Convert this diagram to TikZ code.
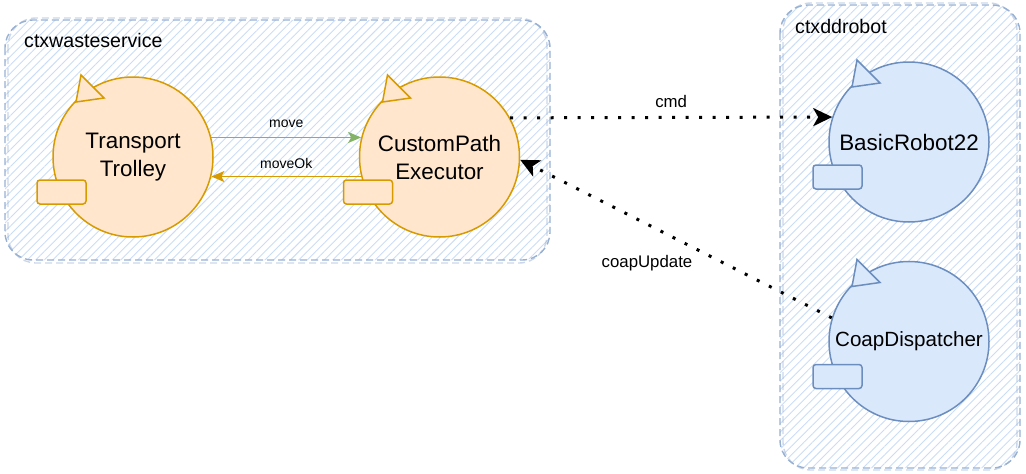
\documentclass[tikz,border=0pt]{standalone}
\usepackage{fontspec}
\setmainfont{Liberation Sans}
\usetikzlibrary{arrows.meta,positioning,patterns.meta}

\definecolor{orangefill}{HTML}{FFE6CC}
\definecolor{orangeline}{HTML}{D79B00}
\definecolor{bluefill}{HTML}{DAE8FC}
\definecolor{blueline}{HTML}{6C8EBF}
\definecolor{greenline}{HTML}{82B366}
\definecolor{hatchline}{HTML}{CADDF7}

\begin{document}
\begin{tikzpicture}[
    x=1pt, y=-1pt,
    every node/.style={font=\fontsize{14}{16}\selectfont},
    context/.style={
        draw=blueline!70, dash pattern=on 7pt off 4pt,
        line width=1.4pt, rounded corners=28pt
    },
    contextfill/.style={
        pattern={Lines[angle=45,distance=6pt,line width=0.9pt]},
        pattern color=hatchline, rounded corners=28pt
    },
    ctxlabel/.style={
        anchor=base west, inner sep=0pt,
        font=\fontsize{19.6}{22}\selectfont
    },
    actor/.style={
        circle, draw, minimum size=160pt, inner sep=0pt,
        line width=1.5pt, align=center,
        font=\fontsize{22.4}{28}\selectfont
    },
    orangeactor/.style={actor, fill=orangefill, draw=orangeline},
    blueactor/.style={actor, fill=bluefill, draw=blueline},
    flag/.style={line width=1.5pt, line join=miter},
    port/.style={line width=1.5pt, rounded corners=3pt},
    msg/.style={-{Stealth[length=13pt,width=11pt,inset=3pt]}, line width=1.5pt},
    remote/.style={
        -{Stealth[length=19pt,width=18pt,inset=5pt]}, line width=3pt,
        dash pattern=on 3pt off 10.5pt
    },
    msglabel/.style={inner sep=0pt, text=black},
    remotelabel/.style={inner sep=0pt, font=\fontsize{16.8}{19}\selectfont}
]

\useasboundingbox (0,0) rectangle (1026,474);

% --- Contexts ---
\fill[contextfill] (5,20) rectangle (550,260);
\draw[context] (5,20) rectangle (550,260);
\draw[context, draw opacity=0.5] (8,18) rectangle (547,263);
\node[ctxlabel] (wastelabel) at (24,47) {ctxwasteservice};

\fill[contextfill] (780,5) rectangle (1020,468);
\draw[context] (780,5) rectangle (1020,468);
\draw[context, draw opacity=0.5] (783,3) rectangle (1017,470);
\node[ctxlabel] (robotlabel) at (795,33) {ctxddrobot};

% --- Actors ---
\node[orangeactor] (trolley) at (133,157) {Transport\\Trolley};
\node[orangeactor, right=145pt of trolley] (executor) {CustomPath\\Executor};
\node[blueactor] (robot) at (909,142) {BasicRobot22};
\node[blueactor, below=38pt of robot, font=\fontsize{20.6}{26}\selectfont] (coap) {CoapDispatcher};

% actor flags and ports
\filldraw[flag, fill=orangefill, draw=orangeline] (trolley.center) ++(-52,-82) -- ++(-5,27) -- ++(28,-4) -- cycle;
\filldraw[port, fill=orangefill, draw=orangeline] (trolley.center) ++(-96,23) rectangle ++(49,24);
\filldraw[flag, fill=orangefill, draw=orangeline] (executor.center) ++(-52,-82) -- ++(-5,27) -- ++(28,-4) -- cycle;
\filldraw[port, fill=orangefill, draw=orangeline] (executor.center) ++(-96,23) rectangle ++(49,24);
\filldraw[flag, fill=bluefill, draw=blueline] (robot.center) ++(-52,-82) -- ++(-5,27) -- ++(28,-4) -- cycle;
\filldraw[port, fill=bluefill, draw=blueline] (robot.center) ++(-96,23) rectangle ++(49,24);
\filldraw[flag, fill=bluefill, draw=blueline] (coap.center) ++(-52,-82) -- ++(-5,27) -- ++(28,-4) -- cycle;
\filldraw[port, fill=bluefill, draw=blueline] (coap.center) ++(-96,23) rectangle ++(49,24);

% --- Messages ---
\draw[msg, color=greenline] (trolley.14) -- node[msglabel, above=9pt] {move} (executor.166);
\draw[msg, color=orangeline] (executor.194) -- node[msglabel, above=7pt] {moveOk} (trolley.-14);

% remote messages
\draw[remote] (executor.29) -- node[remotelabel, above=8pt] {cmd} (robot.162);
\draw[remote] (coap.163) -- node[remotelabel, xshift=-29pt, yshift=-24pt] {coapUpdate} (executor.-2);

\end{tikzpicture}
\end{document}
